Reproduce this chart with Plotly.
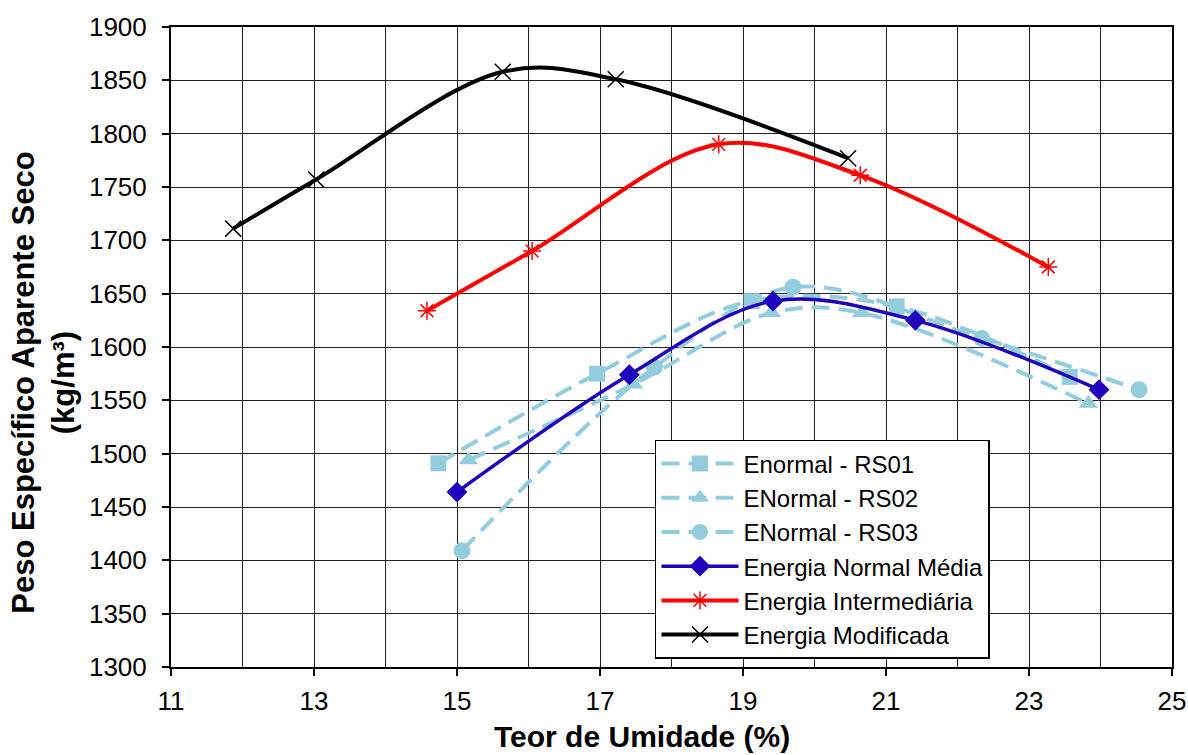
import plotly.graph_objects as go

# Compaction curves: moisture content (%) vs dry unit weight (kg/m3)
rs01_w = [14.74, 16.96, 19.12, 21.15, 23.57]
rs01_g = [1491, 1575, 1643, 1638, 1572]

rs02_w = [15.16, 17.47, 19.40, 20.66, 23.83]
rs02_g = [1494, 1565, 1632, 1632, 1547]

rs03_w = [15.07, 17.76, 19.70, 22.34, 24.54]
rs03_g = [1409, 1581, 1656, 1608, 1560]

media_w = [15.00, 17.41, 19.42, 21.41, 23.98]
media_g = [1464, 1574, 1643, 1625, 1560]

inter_w = [14.58, 16.05, 18.66, 20.64, 23.27]
inter_g = [1634, 1690, 1790, 1761, 1675]

modif_w = [11.87, 13.03, 15.64, 17.22, 20.47]
modif_g = [1711, 1757, 1858, 1851, 1777]

FONT = "Liberation Sans, Arial, sans-serif"
LIGHT = "#93CDDD"
DARK_BLUE = "#1E00BE"

fig = go.Figure()

light_series = [
    ("Enormal - RS01", rs01_w, rs01_g, "square", 16),
    ("ENormal - RS02", rs02_w, rs02_g, "triangle-up", 17),
    ("ENormal - RS03", rs03_w, rs03_g, "circle", 17),
]
for name, xs, ys, sym, size in light_series:
    fig.add_trace(go.Scatter(
        x=xs, y=ys, name=name, mode="lines+markers",
        line=dict(color=LIGHT, width=4, dash="18px,9px", shape="spline", smoothing=1.0),
        marker=dict(symbol=sym, size=size, color=LIGHT),
    ))

fig.add_trace(go.Scatter(
    x=media_w, y=media_g, name="Energia Normal Média", mode="lines+markers",
    line=dict(color=DARK_BLUE, width=3.5, shape="spline", smoothing=1.0),
    marker=dict(symbol="diamond", size=16, color=DARK_BLUE),
))

fig.add_trace(go.Scatter(
    x=inter_w, y=inter_g, name="Energia Intermediária", mode="lines+markers",
    line=dict(color="#FF0000", width=4, shape="spline", smoothing=1.0),
    marker=dict(symbol="asterisk", size=15, color="#FF0000",
                line=dict(color="#FF0000", width=1.5)),
))

fig.add_trace(go.Scatter(
    x=modif_w, y=modif_g, name="Energia Modificada", mode="lines+markers",
    line=dict(color="#000000", width=4, shape="spline", smoothing=1.0),
    marker=dict(symbol="x-thin", size=16, color="#000000",
                line=dict(color="#000000", width=1.5)),
))

axis_common = dict(
    showline=True, linecolor="black", linewidth=2, mirror=True,
    ticks="outside", ticklen=7, tickwidth=1.5, tickcolor="black",
    gridcolor="#222222", gridwidth=1.2, zeroline=False, automargin=False,
    tickfont=dict(family=FONT, size=26, color="black"),
)

fig.update_xaxes(
    range=[11, 25], tick0=11, dtick=2, ticklabelstandoff=3,
    minor=dict(dtick=1, showgrid=True, gridcolor="#222222", gridwidth=1.2, ticks=""),
    **axis_common,
)
fig.update_yaxes(
    range=[1300, 1900], tick0=1300, dtick=50, ticklabelstandoff=10,
    **axis_common,
)

fig.add_annotation(
    text="<b>Teor de Umidade (%)</b>", xref="paper", yref="paper",
    x=0.4705, y=-0.108, xanchor="center", yanchor="middle", showarrow=False,
    font=dict(family=FONT, size=30, color="black"),
)
fig.add_annotation(
    text="<b>Peso Específico Aparente Seco<br>(kg/m³)</b>", xref="paper", yref="paper",
    x=-0.127, y=0.444, xanchor="center", yanchor="middle", showarrow=False,
    textangle=-90, font=dict(family=FONT, size=31, color="black"),
)

fig.update_layout(
    width=1188, height=755,
    margin=dict(l=171, r=16, t=27, b=88),
    paper_bgcolor="white", plot_bgcolor="white",
    font=dict(family=FONT, color="black"),
    showlegend=True,
    legend=dict(
        x=0.4835, y=0.3547, xanchor="left", yanchor="top",
        bgcolor="white", bordercolor="black", borderwidth=1.5,
        font=dict(family=FONT, size=24, color="black"),
        itemwidth=77, tracegroupgap=0,
    ),
)

fig.write_html("out.html")
